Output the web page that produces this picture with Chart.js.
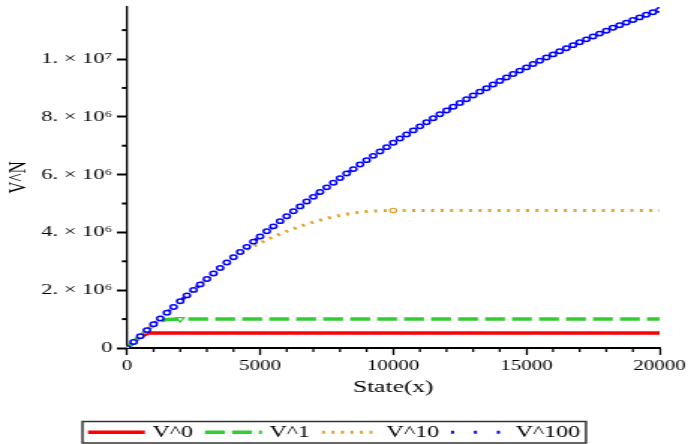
<!DOCTYPE html>
<html>
<head>
<meta charset="utf-8">
<script src="https://cdn.jsdelivr.net/npm/chart.js@4/dist/chart.umd.min.js"></script>
<style>
  html, body { margin: 0; padding: 0; background: #fff; overflow: hidden; }
  /* the Maple export looks stretched sideways, so draw narrow then widen */
  #wrap { width: 459px; height: 444px; transform: scaleX(1.4989); transform-origin: 0 0; }
</style>
</head>
<body>
<div id="wrap"><canvas id="plot"></canvas></div>
<script>
/* data, y in millions */
const seriesNames = ['V^0', 'V^1', 'V^10', 'V^100'];

const redX = [0, 250, 500, 800, 20000];
const redY = [0, 0.2, 0.4, 0.52, 0.52];

const greenX = [0, 250, 500, 750, 1000, 1250, 1500, 2000, 20000];
const greenY = [0, 0.21, 0.41, 0.62, 0.8, 0.93, 0.99, 1.0, 1.0];
const greenMarkAt = 2000;

const orangeX = [0, 500, 1000, 1500, 2000, 2500, 3000, 3500, 4000, 4500, 5000, 5500, 6000,
                 6500, 7000, 7500, 8000, 8500, 9000, 9500, 10000, 20000];
const orangeY = [0, 0.41, 0.82, 1.22, 1.62, 2.01, 2.39, 2.76, 3.10, 3.40, 3.63, 3.85, 4.04,
                 4.21, 4.36, 4.49, 4.59, 4.67, 4.72, 4.75, 4.76, 4.76];
const orangeMarkAt = 10000;

// blue is sampled every 250 states
const blueX = Array.from({ length: 81 }, (_, i) => i * 250);
const blueY = [
  0, 0.21, 0.41, 0.62, 0.82, 1.02, 1.22, 1.42, 1.62, 1.82,
  2.01, 2.20, 2.39, 2.58, 2.77, 2.96, 3.14, 3.32, 3.50, 3.68,
  3.86, 4.04, 4.21, 4.39, 4.56, 4.73, 4.90, 5.07, 5.23, 5.40,
  5.56, 5.72, 5.88, 6.04, 6.19, 6.35, 6.50, 6.65, 6.80, 6.95,
  7.10, 7.25, 7.39, 7.53, 7.67, 7.81, 7.95, 8.09, 8.22, 8.35,
  8.48, 8.61, 8.74, 8.87, 8.99, 9.12, 9.24, 9.36, 9.48, 9.60,
  9.71, 9.83, 9.94, 10.05, 10.16, 10.27, 10.37, 10.48, 10.58, 10.68,
  10.78, 10.88, 10.98, 11.08, 11.17, 11.26, 11.35, 11.44, 11.53, 11.62,
  11.70
];

const xTickValues = [0, 5000, 10000, 15000, 20000];
const xTickLabels = ['0', '5000', '10000', '15000', '20000'];
const xMinor = [1000, 2000, 3000, 4000, 6000, 7000, 8000, 9000, 11000, 12000, 13000, 14000,
                16000, 17000, 18000, 19000];
const yTickValues = [0, 2e6, 4e6, 6e6, 8e6, 1e7];
const yTickLabels = ['0', '2. \u00d7 10\u2076', '4. \u00d7 10\u2076', '6. \u00d7 10\u2076',
                     '8. \u00d7 10\u2076', '1. \u00d7 10\u2077'];
const yMinor = [1e6, 3e6, 5e6, 7e6, 9e6, 1.1e7];

const pts = (xs, ys) => xs.map((x, i) => ({ x: x, y: ys[i] * 1e6 }));
const labelFor = (vals, labels) => v => {
  const i = vals.findIndex(t => Math.abs(t - v) < 1);
  return i < 0 ? '' : labels[i];
};
const FONT = 'Liberation Serif';

/* minor ticks + boxed legend, Maple style */
const extras = {
  id: 'extras',
  afterDraw(chart) {
    const { ctx, chartArea: a, scales: { x, y } } = chart;
    ctx.save();
    ctx.strokeStyle = '#000';
    ctx.setLineDash([]);
    ctx.lineWidth = 1.3;
    xMinor.forEach(v => {
      const px = x.getPixelForValue(v);
      ctx.beginPath(); ctx.moveTo(px, a.bottom); ctx.lineTo(px, a.bottom + 4); ctx.stroke();
    });
    ctx.lineWidth = 2;
    yMinor.forEach(v => {
      const py = y.getPixelForValue(v);
      ctx.beginPath(); ctx.moveTo(a.left - 3.4, py); ctx.lineTo(a.left, py); ctx.stroke();
    });

    // legend
    const top = 421.5, bot = 443, mid = (top + bot) / 2;
    const left = 55;
    let cx = 58.7;
    ctx.font = '16px "' + FONT + '"';
    ctx.textBaseline = 'middle';
    ctx.fillStyle = '#000';
    chart.data.datasets.forEach(ds => {
      ctx.strokeStyle = ds.borderColor;
      ctx.lineWidth = ds.borderWidth;
      ctx.setLineDash(ds.borderDash || []);
      ctx.beginPath(); ctx.moveTo(cx, mid); ctx.lineTo(cx + 38, mid); ctx.stroke();
      cx += 38 + 5;
      ctx.fillText(ds.label, cx, mid + 1);
      cx += ctx.measureText(ds.label).width + 8;
    });
    ctx.setLineDash([]);
    ctx.strokeStyle = '#333';
    ctx.lineWidth = 1.5;
    ctx.strokeRect(left, top, cx - 4 - left, bot - top);
    ctx.restore();
  }
};

new Chart(document.getElementById('plot'), {
  type: 'line',
  data: {
    datasets: [
      {
        label: seriesNames[0], data: pts(redX, redY),
        borderColor: '#ff0000', borderWidth: 3.5, pointRadius: 0, order: 4
      },
      {
        label: seriesNames[1], data: pts(greenX, greenY),
        borderColor: '#33cc33', borderWidth: 3.5, borderDash: [13.3, 4.7],
        pointStyle: 'triangle', pointRotation: 180,
        pointRadius: c => (c.raw && c.raw.x === greenMarkAt ? 3 : 0),
        pointBorderWidth: 1.2, pointBorderColor: '#33cc33', pointBackgroundColor: '#fff', order: 3
      },
      {
        label: seriesNames[2], data: pts(orangeX, orangeY),
        borderColor: '#e0a030', borderWidth: 3, borderDash: [2, 4.33],
        pointStyle: 'circle',
        pointRadius: c => (c.raw && c.raw.x === orangeMarkAt ? 2.2 : 0),
        pointBorderWidth: 1.2, pointBorderColor: '#e0a030', pointBackgroundColor: '#fff', order: 2
      },
      {
        label: seriesNames[3], data: pts(blueX, blueY),
        borderColor: '#0000ff', borderWidth: 3, borderDash: [2, 13.3],
        pointStyle: 'circle', pointRadius: 2.2, pointBorderWidth: 1.5,
        pointBorderColor: '#0000ff', pointBackgroundColor: '#fff', order: 1
      }
    ]
  },
  options: {
    animation: false,
    events: [],
    responsive: true,
    maintainAspectRatio: false,
    layout: { padding: { left: 0, right: 19, top: 7, bottom: 46 } },
    elements: { line: { tension: 0, borderCapStyle: 'butt' } },
    plugins: { legend: { display: false }, tooltip: { enabled: false } },
    scales: {
      x: {
        type: 'linear', min: 0, max: 20000,
        afterBuildTicks: s => { s.ticks = xTickValues.map(v => ({ value: v })); },
        afterFit: s => { s.height = 50; s.paddingLeft = 0; s.paddingRight = 0; },
        border: { color: '#000', width: 2 },
        grid: { drawOnChartArea: false, tickLength: 7, tickWidth: 1.3, tickColor: '#000' },
        ticks: {
          autoSkip: false, maxRotation: 0, padding: 3, color: '#000',
          font: { family: FONT, size: 14 },
          callback: labelFor(xTickValues, xTickLabels)
        },
        title: {
          display: true, text: 'State(x)', color: '#000',
          font: { family: FONT, size: 17 }, padding: { top: 0, bottom: 0 }
        }
      },
      y: {
        type: 'linear', min: 0, max: 11.8e6,
        afterBuildTicks: s => { s.ticks = yTickValues.map(v => ({ value: v })); },
        afterFit: s => { s.width = 84.7; s.paddingTop = 0; s.paddingBottom = 0; },
        border: { color: '#000', width: 1.3 },
        grid: { drawOnChartArea: false, tickLength: 6.7, tickWidth: 2, tickColor: '#000' },
        ticks: {
          autoSkip: false, padding: 3, color: '#000',
          font: { family: FONT, size: 15 },
          callback: labelFor(yTickValues, yTickLabels)
        },
        title: {
          display: true, text: 'V^N', color: '#000',
          font: { family: FONT, size: 17 }, padding: { top: 2, bottom: 0 }
        }
      }
    }
  },
  plugins: [extras]
});
</script>
</body>
</html>
